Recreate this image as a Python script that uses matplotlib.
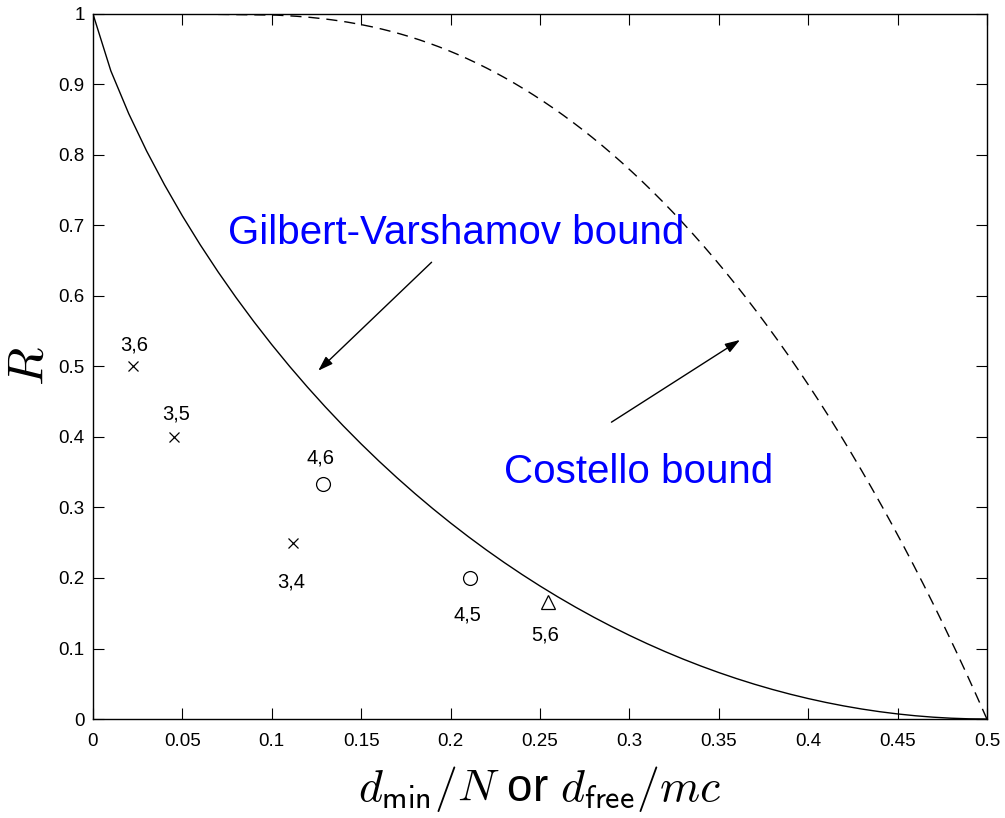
import numpy as np
import matplotlib
matplotlib.use("Agg")
import matplotlib.pyplot as plt

plt.rcParams['font.family'] = ['Liberation Sans', 'DejaVu Sans']
plt.rcParams['mathtext.fontset'] = 'cm'

# Code points (d/N or d_free/mc, rate R)
cross_x = [0.0225, 0.0453, 0.112]
cross_y = [0.5, 0.4, 0.25]
circle_x = [0.1288, 0.211]
circle_y = [1/3, 0.2]
tri_x = [0.2547]
tri_y = [1/6]

point_labels = ["3,6", "3,5", "4,6", "3,4", "4,5", "5,6"]
label_x = [0.0229, 0.0464, 0.127, 0.1107, 0.2097, 0.2528]
label_y = [0.530, 0.432, 0.370, 0.195, 0.147, 0.119]

xticks = [0, 0.05, 0.1, 0.15, 0.2, 0.25, 0.3, 0.35, 0.4, 0.45, 0.5]
yticks = [0, 0.1, 0.2, 0.3, 0.4, 0.5, 0.6, 0.7, 0.8, 0.9, 1]
xtick_labels = ["0", "0.05", "0.1", "0.15", "0.2", "0.25", "0.3", "0.35", "0.4", "0.45", "0.5"]
ytick_labels = ["0", "0.1", "0.2", "0.3", "0.4", "0.5", "0.6", "0.7", "0.8", "0.9", "1"]

# Gilbert-Varshamov bound: R = 1 - H(delta), sampled at 0.01 steps
gv_delta = np.arange(0, 0.5001, 0.01)
def H2(p):
    p = np.clip(p, 1e-15, 1 - 1e-15)
    return -p * np.log2(p) - (1 - p) * np.log2(1 - p)
gv_R = 1 - H2(gv_delta)
gv_R[0] = 1.0

# Costello bound: d_free/mc = -R / log2(2^(1-R) - 1)
cost_R = np.linspace(1e-6, 1 - 1e-6, 600)
cost_d = -cost_R / np.log2(2 ** (1 - cost_R) - 1)
cost_R = np.concatenate([[0.0], cost_R, [1.0]])
cost_d = np.concatenate([[0.5], cost_d, [0.0]])

fig = plt.figure(figsize=(10.05, 8.18), dpi=100)
ax = fig.add_axes([0.0925, 0.121, 0.8895, 0.862])

ax.plot(gv_delta, gv_R, color='black', lw=1.0)
ax.plot(cost_d, cost_R, color='black', lw=1.0, dashes=(8, 5))

ax.plot(cross_x, cross_y, 'x', color='black', ms=7, mew=0.9)
ax.plot(circle_x, circle_y, 'o', mfc='none', mec='black', ms=10, mew=0.9)
ax.plot(tri_x, tri_y, '^', mfc='none', mec='black', ms=10, mew=0.9)

for t, x, y in zip(point_labels, label_x, label_y):
    ax.text(x, y, t, ha='center', va='center', fontsize=14.5)

ax.text(0.203, 0.689, "Gilbert-Varshamov bound", color='blue', fontsize=29,
        ha='center', va='center')
ax.text(0.305, 0.350, "Costello bound", color='blue', fontsize=29,
        ha='center', va='center')

ap = dict(arrowstyle='-|>,head_length=0.9,head_width=0.3', color='black', lw=1.0,
          shrinkA=0, shrinkB=0)
ax.annotate("", xy=(0.1260, 0.494), xytext=(0.1894, 0.6478), arrowprops=ap)
ax.annotate("", xy=(0.3619, 0.5376), xytext=(0.290, 0.421), arrowprops=ap)

ax.set_xlim(0, 0.5)
ax.set_ylim(0, 1)
ax.set_xticks(xticks)
ax.set_xticklabels(xtick_labels)
ax.set_yticks(yticks)
ax.set_yticklabels(ytick_labels)
ax.tick_params(direction='in', length=8, width=0.8, top=True, right=True,
               labelsize=13.5)
ax.tick_params(axis='x', pad=10)
ax.tick_params(axis='y', pad=6)
for s in ax.spines.values():
    s.set_linewidth(1.0)

ax.set_xlabel(r'$d_{\mathsf{min}}/N$ or $d_{\mathsf{free}}/mc$', fontsize=33, labelpad=10)
ax.set_ylabel(r'$R$', fontsize=36, labelpad=4)

fig.savefig("out.png", dpi=100)
